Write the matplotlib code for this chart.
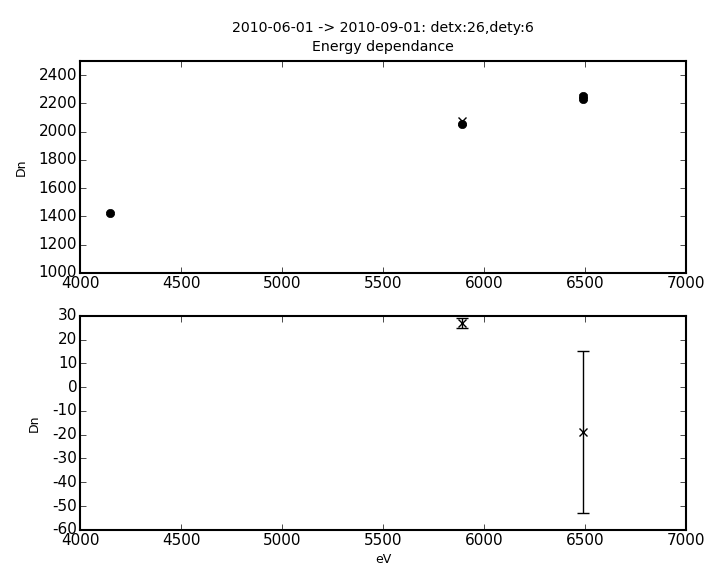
import matplotlib
matplotlib.use("Agg")
import matplotlib.pyplot as plt

plt.style.use('classic')
plt.rcParams['axes.unicode_minus'] = False

# top panel data
meas_x = [4150, 5890, 6490, 6490]
meas_y = [1425, 2055, 2255, 2232]
meas_err = [8, 10, 10, 10]
model_x = [5890]
model_y = [2078]

# residuals
res_x = [5890, 6490]
res_y = [27, -19]
res_err = [2, 34]

title = "2010-06-01 -> 2010-09-01: detx:26,dety:6\nEnergy dependance"

fig = plt.figure(figsize=(7.08, 5.66), dpi=100, facecolor='white')
ax1 = fig.add_axes([0.113, 0.518, 0.856, 0.374])
ax2 = fig.add_axes([0.113, 0.064, 0.856, 0.378])

ax1.errorbar(meas_x, meas_y, yerr=meas_err, fmt='o', color='black', ms=6, capsize=3)
ax1.plot(model_x, model_y, 'x', color='black', ms=6, mew=1)
ax1.set_xlim(4000, 7000)
ax1.set_ylim(1000, 2500)
ax1.set_yticks([1000, 1200, 1400, 1600, 1800, 2000, 2200, 2400])
ax1.set_ylabel('Dn', fontsize=9, labelpad=8)
ax1.set_title(title, fontsize=10.2, pad=7, linespacing=1.45)

ax2.errorbar(res_x, res_y, yerr=res_err, fmt='x', color='black', ms=6, capsize=4, mew=1)
ax2.set_xlim(4000, 7000)
ax2.set_ylim(-60, 30)
ax2.set_yticks(list(range(-60, 31, 10)))
ax2.set_ylabel('Dn', fontsize=9, labelpad=8)
ax2.set_xlabel('eV', fontsize=9, labelpad=4)

for ax in (ax1, ax2):
    ax.tick_params(labelsize=11, pad=2)
    ax.set_facecolor('white')
    for s in ax.spines.values():
        s.set_linewidth(1.5)

fig.savefig('out.png', dpi=100, facecolor='white')
